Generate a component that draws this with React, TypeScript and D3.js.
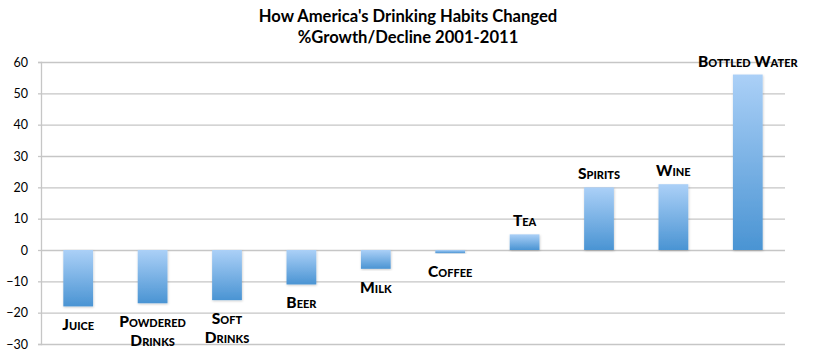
// react
import { useEffect, useRef } from "react";

// d3
import * as d3 from "d3";

const categories = [
  "Juice",
  "Powdered Drinks",
  "Soft Drinks",
  "Beer",
  "Milk",
  "Coffee",
  "Tea",
  "Spirits",
  "Wine",
  "Bottled Water",
];
// label line breaks as shown in the chart
const labelLines = [
  ["Juice"],
  ["Powdered", "Drinks"],
  ["Soft", "Drinks"],
  ["Beer"],
  ["Milk"],
  ["Coffee"],
  ["Tea"],
  ["Spirits"],
  ["Wine"],
  ["Bottled Water"],
];
const growth = [-18, -17, -16, -11, -6, -1, 5, 20, 21, 56];
const yTicks = [60, 50, 40, 30, 20, 10, 0, -10, -20, -30];
const titleLines = [
  "How America's Drinking Habits Changed",
  "%Growth/Decline 2001-2011",
];

const FONT = "Lato, 'Open Sans', sans-serif";

export default function App() {
  const ref = useRef<SVGSVGElement>(null);

  useEffect(() => {
    document.body.style.margin = "0";
    if (!ref.current) return;
    const svg = d3.select(ref.current);
    svg.selectAll("*").remove();

    const W = 814;
    const H = 359;
    const m = { top: 62, right: 29, bottom: 15, left: 41 };
    const w = W - m.left - m.right;
    const h = H - m.top - m.bottom;

    svg.attr("width", W).attr("height", H).attr("viewBox", `0 0 ${W} ${H}`);

    const x = d3
      .scaleBand()
      .domain(categories)
      .range([0, w])
      .paddingInner(0.6)
      .paddingOuter(0.3);
    const y = d3.scaleLinear().domain([-30, 60]).range([h, 0]);

    const defs = svg.append("defs");
    const grad = defs
      .append("linearGradient")
      .attr("id", "barGrad")
      .attr("x1", 0)
      .attr("y1", 0)
      .attr("x2", 0)
      .attr("y2", 1);
    grad.append("stop").attr("offset", "0%").attr("stop-color", "#abd0f7");
    grad.append("stop").attr("offset", "100%").attr("stop-color", "#4a94d3");

    const shadow = defs
      .append("filter")
      .attr("id", "shadow")
      .attr("x", "-20%")
      .attr("y", "-10%")
      .attr("width", "140%")
      .attr("height", "120%");
    shadow
      .append("feDropShadow")
      .attr("dx", 0.5)
      .attr("dy", 1)
      .attr("stdDeviation", 0.8)
      .attr("flood-color", "#000")
      .attr("flood-opacity", 0.2);

    // title
    svg
      .append("g")
      .selectAll("text")
      .data(titleLines)
      .join("text")
      .attr("x", 408)
      .attr("y", (_, i) => 16 + i * 21)
      .attr("text-anchor", "middle")
      .attr("dominant-baseline", "central")
      .attr("font-family", FONT)
      .attr("font-weight", 700)
      .attr("font-size", 16.6)
      .attr("fill", "#000")
      .text((d) => d);

    const g = svg
      .append("g")
      .attr("transform", `translate(${m.left},${m.top})`);

    // grid
    g.append("g")
      .call(
        d3
          .axisLeft(y)
          .tickValues(yTicks)
          .tickSize(-w)
          .tickFormat(() => ""),
      )
      .call((a) => {
        a.select(".domain").remove();
        a.selectAll("line").attr("stroke", "#c6c6c6").attr("stroke-width", 1.3);
      });

    // y axis
    g.append("g")
      .call(d3.axisLeft(y).tickValues(yTicks).tickSize(3).tickPadding(10))
      .call((a) => {
        a.select(".domain").attr("stroke", "#c6c6c6").attr("stroke-width", 1.3);
        a.selectAll("line").attr("stroke", "#c6c6c6").attr("stroke-width", 1.3);
        a.selectAll("text")
          .attr("font-family", FONT)
          .attr("font-size", 12.5)
          .attr("fill", "#000");
      });

    // bars
    const data = categories.map((c, i) => ({ c, v: growth[i], lines: labelLines[i] }));
    g.selectAll("rect.bar")
      .data(data)
      .join("rect")
      .attr("class", "bar")
      .attr("x", (d) => x(d.c)!)
      .attr("y", (d) => y(Math.max(0, d.v)))
      .attr("width", x.bandwidth())
      .attr("height", (d) => Math.abs(y(d.v) - y(0)))
      .attr("fill", "url(#barGrad)")
      .attr("filter", "url(#shadow)");

    // data labels
    const labels = g
      .selectAll("text.lbl")
      .data(data)
      .join("text")
      .attr("class", "lbl")
      .attr("text-anchor", "middle")
      .attr("dominant-baseline", "central")
      .attr("font-family", FONT)
      .attr("font-weight", 900)
      .attr("font-size", 15.5)
      .style("font-variant", "small-caps")
      .attr("fill", "#000");

    labels
      .selectAll("tspan")
      .data((d) =>
        d.lines.map((t, j) => ({
          t,
          cx: x(d.c)! + x.bandwidth() / 2,
          cy:
            d.v < 0
              ? y(d.v) + 18 + j * 19
              : y(d.v) - 14 - (d.lines.length - 1 - j) * 19,
        })),
      )
      .join("tspan")
      .attr("x", (d) => d.cx)
      .attr("y", (d) => d.cy)
      .text((d) => d.t);
  }, []);

  return <svg ref={ref} style={{ display: "block" }} />;
}
